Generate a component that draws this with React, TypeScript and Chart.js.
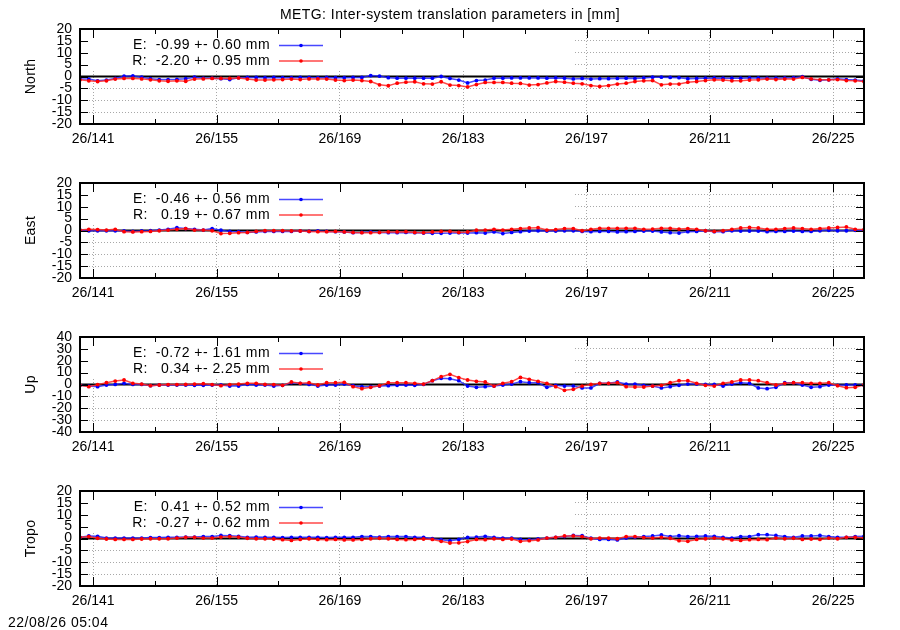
import React, { useEffect, useRef } from "react";
import { Chart, registerables } from "chart.js";

Chart.register(...registerables);

const FONT = '"Liberation Sans", Arial, Helvetica, sans-serif';

const TITLE = "METG: Inter-system translation parameters in [mm]";
const TIMESTAMP = "22/08/26 05:04";

// day of year (2026); each solution is plotted at noon of its day
const DAYS = [
  139, 140, 141, 142, 143, 144, 145, 146, 147, 148,
  149, 150, 151, 152, 153, 154, 155, 156, 157, 158,
  159, 160, 161, 162, 163, 164, 165, 166, 167, 168,
  169, 170, 171, 172, 173, 174, 175, 176, 177, 178,
  179, 180, 181, 182, 183, 184, 185, 186, 187, 188,
  189, 190, 191, 192, 193, 194, 195, 196, 197, 198,
  199, 200, 201, 202, 203, 204, 205, 206, 207, 208,
  209, 210, 211, 212, 213, 214, 215, 216, 217, 218,
  219, 220, 221, 222, 223, 224, 225, 226, 227, 228,
];

const X_TICKS = [141, 155, 169, 183, 197, 211, 225];
const X_TICK_LABELS = ["26/141", "26/155", "26/169", "26/183", "26/197", "26/211", "26/225"];
const X_MINOR_TICKS = [148, 162, 176, 190, 204, 218];

const Y_TICKS_SMALL = [-20, -15, -10, -5, 0, 5, 10, 15, 20];
const Y_TICKS_UP = [-40, -30, -20, -10, 0, 10, 20, 30, 40];

const PANEL_NAMES = ["North", "East", "Up", "Tropo"];
const E_MEAN = [-0.99, -0.46, -0.72, 0.41];
const E_SIGMA = [0.6, 0.56, 1.61, 0.52];
const R_MEAN = [-2.2, 0.19, 0.34, -0.27];
const R_SIGMA = [0.95, 0.67, 2.25, 0.62];

const NORTH_E = [
  -1.0, -1.1, -1.8, -1.5, -0.8, 0.1, 0.3, -0.3, -0.9, -1.3,
  -1.3, -1.2, -0.9, -0.3, -0.7, -0.7, -0.9, -1.3, -0.5, -0.4,
  -0.4, -0.5, -0.4, -0.5, -0.5, -0.4, -0.4, -0.5, -0.4, -0.5,
  -0.5, -0.4, -0.4, 0.4, 0.2, -0.5, -0.7, -0.7, -0.7, -0.7,
  -0.7, 0.0, -0.8, -1.5, -2.7, -1.7, -1.5, -0.7, -0.7, -0.6,
  -0.6, -0.6, -0.6, -0.7, -0.6, -0.7, -1.0, -0.8, -1.1, -0.9,
  -0.9, -0.8, -0.7, -0.8, -0.6, -0.3, -0.3, -0.4, -0.5, -0.9,
  -0.8, -0.7, -0.6, -0.7, -0.7, -0.7, -0.6, -0.6, -0.7, -0.7,
  -0.6, -0.5, -0.1, -1.2, -1.6, -1.4, -1.0, -1.3, -1.5, -1.8,
];
const NORTH_R = [
  -1.4, -1.8, -2.1, -1.8, -1.1, -0.8, -0.8, -1.0, -1.4, -1.8,
  -2.0, -1.8, -2.0, -1.1, -1.0, -0.8, -0.8, -0.8, -0.6, -1.1,
  -1.5, -1.5, -1.4, -1.3, -1.1, -1.3, -1.0, -1.0, -1.1, -1.5,
  -1.7, -1.5, -1.7, -2.1, -3.5, -3.9, -2.8, -2.4, -2.2, -3.1,
  -3.2, -2.2, -3.6, -3.8, -4.4, -3.4, -2.5, -2.5, -2.5, -2.8,
  -2.9, -3.6, -3.4, -2.7, -2.1, -2.4, -2.8, -3.1, -3.8, -4.2,
  -3.8, -3.2, -2.8, -2.1, -1.8, -1.7, -3.5, -3.2, -3.2, -2.4,
  -2.1, -1.7, -1.4, -1.5, -1.8, -1.8, -1.5, -1.4, -1.1, -1.3,
  -1.1, -1.1, -0.4, -1.0, -1.4, -1.4, -1.3, -1.7, -1.8, -2.1,
];
const EAST_E = [
  0.2, -0.1, -0.1, -0.1, -0.1, -0.2, -0.4, -0.2, -0.1, 0.2,
  0.5, 1.2, 0.8, 0.5, 0.2, 0.8, 0.1, -0.4, -0.5, -0.8,
  -0.6, -0.4, -0.4, -0.4, -0.4, -0.2, -0.4, -0.2, -0.4, -0.5,
  -0.6, -0.9, -0.8, -0.6, -0.8, -0.9, -0.9, -0.8, -0.9, -1.1,
  -1.2, -1.2, -1.1, -0.9, -1.1, -0.9, -1.1, -0.6, -1.3, -0.8,
  -0.5, -0.2, -0.1, -0.2, -0.2, -0.1, -0.1, -0.4, -0.5, -0.4,
  -0.4, -0.6, -0.5, -0.4, -0.2, -0.2, -0.6, -0.9, -1.1, -0.5,
  -0.4, -0.1, -0.5, -0.5, -0.1, -0.2, -0.2, -0.2, -0.5, -0.4,
  -0.4, -0.2, -0.4, -0.4, -0.1, 0.1, -0.1, -0.1, 0.1, 0.1,
];
const EAST_R = [
  0.2, 0.5, 0.4, 0.2, 0.5, -0.5, -0.6, -0.5, -0.4, -0.1,
  0.2, 0.5, 0.8, 0.2, 0.2, -0.1, -1.3, -1.2, -0.9, -0.8,
  -0.4, -0.1, -0.1, -0.1, -0.2, -0.2, -0.4, -0.5, -0.5, -0.4,
  -0.6, -0.8, -0.9, -0.9, -0.8, -0.6, -0.6, -0.5, -0.8, -0.9,
  -0.6, -0.4, -0.4, -0.8, -0.6, 0.1, 0.2, 0.5, 0.2, 0.5,
  0.8, 1.1, 1.2, 0.2, 0.4, 0.8, 0.8, -0.1, 0.5, 0.9,
  0.9, 0.9, 0.9, 0.9, 0.5, 0.6, 0.9, 0.9, 0.6, 0.8,
  0.5, -0.1, -0.4, -0.1, 0.5, 1.1, 1.3, 1.1, 0.5, 0.5,
  0.8, 1.1, 0.8, 0.5, 0.8, 1.1, 1.3, 1.5, 0.5, 0.4,
];
const UP_E = [
  -0.7, -1.3, -1.8, -0.4, 0.1, 1.0, 0.1, 0.1, -1.0, -0.4,
  -0.4, -0.4, -0.4, -0.7, -0.7, -0.4, -0.4, -1.3, -1.3, 0.1,
  -0.4, -0.4, -1.3, -0.7, 1.5, 1.0, 0.1, -1.3, -0.4, -0.4,
  0.4, -1.0, -1.8, -1.8, -1.3, -1.0, -0.7, -0.4, -0.7, 0.1,
  3.2, 5.2, 4.9, 3.2, -1.3, -2.4, -1.8, -1.3, -0.4, 0.4,
  2.4, 1.5, 1.5, -2.4, -0.7, -1.3, -1.3, -2.9, -2.9, 1.0,
  1.0, 2.1, 0.4, 0.4, -0.7, -1.3, -2.9, -1.8, -0.7, 0.4,
  0.4, 0.1, 0.1, -1.3, 0.4, 1.5, 1.0, -2.9, -3.5, -2.4,
  1.5, 1.5, -0.4, -2.4, -1.8, -0.4, -0.7, -0.4, -0.4, -0.7,
];
const UP_R = [
  -0.7, -1.8, -0.1, 1.5, 2.9, 3.8, 1.0, 0.4, -1.0, -0.4,
  -0.1, -0.1, 0.1, 0.4, 0.7, -0.1, -1.0, -0.1, 0.4, 1.0,
  1.0, 0.1, -0.1, -0.7, 2.1, 1.0, 1.5, -0.4, 1.5, 1.5,
  1.8, -1.8, -3.5, -2.4, -1.0, 1.5, 1.5, 1.5, 1.0, 0.4,
  3.2, 6.6, 8.6, 5.8, 3.8, 2.7, 2.1, -1.3, 1.0, 2.4,
  6.0, 4.4, 2.7, 1.0, -1.8, -4.9, -4.1, -1.3, 0.1, 1.0,
  1.0, 1.5, -1.8, -2.1, -2.1, -1.3, -0.7, 1.5, 3.2, 3.2,
  1.0, -0.7, -1.3, 1.0, 2.1, 3.8, 3.8, 3.2, 1.5, -0.4,
  1.0, 1.5, 1.5, 1.0, 1.0, 1.5, -1.0, -2.7, -2.4, -0.4,
];
const TROPO_E = [
  0.5, 1.1, 0.9, 0.2, 0.2, 0.2, 0.2, 0.2, 0.4, 0.4,
  0.5, 0.5, 0.6, 0.6, 0.8, 0.8, 1.3, 1.2, 0.9, 0.5,
  0.6, 0.5, 0.5, 0.4, 0.5, 0.5, 0.5, 0.5, 0.4, 0.5,
  0.5, 0.5, 0.8, 0.8, 0.6, 0.8, 0.8, 0.8, 0.5, 0.5,
  -0.1, -0.5, -0.9, -0.4, 0.5, 0.6, 0.9, 0.5, 0.2, 0.2,
  -0.4, -0.5, -0.2, 0.2, 0.5, 0.8, 1.3, 1.2, 0.1, -0.4,
  -0.4, -0.6, 0.2, 0.5, 0.8, 1.1, 1.5, 0.8, 1.2, 0.8,
  0.9, 1.1, 0.9, 0.5, 0.2, 0.8, 0.8, 1.6, 1.6, 1.3,
  0.8, 0.5, 1.1, 1.1, 1.3, 0.8, 0.5, 0.5, 0.8, 0.9,
];
const TROPO_R = [
  0.5, 0.8, 0.1, -0.2, -0.4, -0.4, -0.4, -0.2, -0.1, -0.1,
  -0.1, 0.2, 0.5, 0.5, 0.2, 0.2, 0.6, 0.8, 0.6, 0.1,
  -0.1, -0.1, -0.2, -0.5, -0.8, -0.4, -0.1, -0.4, -0.5, -0.4,
  -0.6, -0.6, -0.4, -0.1, 0.1, -0.1, -0.4, -0.5, -0.4, -0.2,
  -0.4, -1.2, -1.9, -1.8, -1.3, -0.4, -0.5, -0.1, -0.4, -0.2,
  -1.2, -0.9, -0.6, 0.2, 0.5, 1.1, 1.1, 0.8, -0.1, 0.2,
  0.2, -0.1, 0.8, 0.8, 0.4, 0.2, 0.5, 0.1, -0.9, -1.2,
  -0.4, -0.1, 0.2, -0.1, -0.6, -0.8, -0.5, -0.4, -0.5, 0.2,
  -0.1, 0.1, -0.4, -0.2, -0.4, 0.2, -0.1, 0.5, 0.5, 0.2,
];

const E_SERIES = [NORTH_E, EAST_E, UP_E, TROPO_E];
const R_SERIES = [NORTH_R, EAST_R, UP_R, TROPO_R];
const Y_TICKS = [Y_TICKS_SMALL, Y_TICKS_SMALL, Y_TICKS_UP, Y_TICKS_SMALL];

const BLUE = "#0000ff";
const RED = "#ff0000";
const BLUE_LINE = "rgba(40,40,255,0.85)";
const RED_LINE = "rgba(255,40,40,0.85)";

const fmtMean = (v: number) => v.toFixed(2).padStart(6, " ");

const gnuplotPlugin = {
  id: "gnuplot",
  beforeDatasetsDraw(chart: any) {
    const { ctx, chartArea } = chart;
    const { left, top, right } = chartArea;
    ctx.save();
    // opaque key box
    ctx.fillStyle = "#ffffff";
    ctx.fillRect(left, top, 493, 40);
    // zero axis
    const y0 = chart.scales.y.getPixelForValue(0);
    ctx.strokeStyle = "#000000";
    ctx.lineWidth = 2;
    ctx.beginPath();
    ctx.moveTo(left, y0);
    ctx.lineTo(right, y0);
    ctx.stroke();
    ctx.restore();
  },
  afterDatasetsDraw(chart: any, _args: any, opts: any) {
    const { ctx, chartArea, scales } = chart;
    const { left, top, right, bottom } = chartArea;
    const x = scales.x;
    const y = scales.y;
    ctx.save();
    ctx.strokeStyle = "#000000";
    ctx.lineWidth = 1;
    ctx.beginPath();
    for (const v of X_TICKS) {
      const px = Math.round(x.getPixelForValue(v)) + 0.5;
      ctx.moveTo(px, bottom);
      ctx.lineTo(px, bottom - 9);
      ctx.moveTo(px, top);
      ctx.lineTo(px, top + 9);
    }
    for (const v of X_MINOR_TICKS) {
      const px = Math.round(x.getPixelForValue(v)) + 0.5;
      ctx.moveTo(px, bottom);
      ctx.lineTo(px, bottom - 5);
      ctx.moveTo(px, top);
      ctx.lineTo(px, top + 5);
    }
    for (const v of opts.yTicks) {
      const py = Math.round(y.getPixelForValue(v)) + 0.5;
      ctx.moveTo(left, py);
      ctx.lineTo(left + 8, py);
      ctx.moveTo(right, py);
      ctx.lineTo(right - 8, py);
    }
    ctx.stroke();
    ctx.lineWidth = 2;
    ctx.strokeRect(left, top, right - left, bottom - top);

    // key
    ctx.font = `14px ${FONT}`;
    (ctx as any).letterSpacing = "0.45px";
    ctx.textBaseline = "middle";
    opts.entries.forEach((e: any, k: number) => {
      const ty = top + 16.5 + k * 15.5;
      ctx.fillStyle = "#000000";
      ctx.textAlign = "right";
      ctx.fillText(e.text, left + 190, ty);
      ctx.strokeStyle = e.line;
      ctx.lineWidth = 1.6;
      ctx.beginPath();
      ctx.moveTo(left + 199, ty);
      ctx.lineTo(left + 243, ty);
      ctx.stroke();
      ctx.fillStyle = e.point;
      ctx.beginPath();
      ctx.arc(left + 221, ty, 1.8, 0, Math.PI * 2);
      ctx.fill();
    });

    // y axis title
    ctx.fillStyle = "#000000";
    (ctx as any).letterSpacing = "0.3px";
    ctx.translate(31.5, (top + bottom) / 2);
    ctx.rotate(-Math.PI / 2);
    ctx.textAlign = "center";
    ctx.fillText(opts.title, 0, 0);
    ctx.restore();
  },
};

function Panel({ index }: { index: number }) {
  const ref = useRef<HTMLCanvasElement | null>(null);
  useEffect(() => {
    if (!ref.current) return;
    const yTicks = Y_TICKS[index];
    const yMin = yTicks[0];
    const yMax = yTicks[yTicks.length - 1];
    const toPoints = (vals: number[]) => DAYS.map((d, i) => ({ x: d + 0.5, y: vals[i] }));
    const chart = new Chart(ref.current, {
      type: "line",
      data: {
        datasets: [
          {
            label: "R",
            data: toPoints(R_SERIES[index]),
            borderColor: RED_LINE,
            backgroundColor: RED,
            pointBackgroundColor: RED,
            pointBorderWidth: 0,
            pointRadius: 1.9,
            borderWidth: 1.5,
            tension: 0,
            order: 0,
          },
          {
            label: "E",
            data: toPoints(E_SERIES[index]),
            borderColor: BLUE_LINE,
            backgroundColor: BLUE,
            pointBackgroundColor: BLUE,
            pointBorderWidth: 0,
            pointRadius: 1.9,
            borderWidth: 1.5,
            tension: 0,
            order: 1,
          },
        ],
      },
      options: {
        animation: false,
        responsive: false,
        maintainAspectRatio: false,
        devicePixelRatio: 1,
        events: [],
        layout: { padding: { top: 29, right: 36, left: 0, bottom: 0 } },
        plugins: {
          legend: { display: false },
          tooltip: { enabled: false },
          title: { display: false },
          gnuplot: {
            title: PANEL_NAMES[index],
            yTicks,
            entries: [
              {
                text: `E: ${fmtMean(E_MEAN[index])} +- ${E_SIGMA[index].toFixed(2)} mm`,
                line: BLUE_LINE,
                point: BLUE,
              },
              {
                text: `R: ${fmtMean(R_MEAN[index])} +- ${R_SIGMA[index].toFixed(2)} mm`,
                line: RED_LINE,
                point: RED,
              },
            ],
          },
        } as any,
        scales: {
          x: {
            type: "linear",
            min: 139.5,
            max: 228.5,
            afterBuildTicks: (s: any) => {
              s.ticks = X_TICKS.map((v) => ({ value: v }));
            },
            afterFit: (s: any) => {
              s.height = 30;
            },
            ticks: {
              autoSkip: false,
              maxRotation: 0,
              padding: 7,
              color: "#000000",
              font: { family: FONT, size: 14 },
              callback: (v: any) => {
                const k = X_TICKS.indexOf(Number(v));
                return k >= 0 ? X_TICK_LABELS[k] : "";
              },
            },
            grid: { color: "#a8a8a8", lineWidth: 1, drawTicks: false },
            border: { display: false, dash: [1, 2] },
          },
          y: {
            type: "linear",
            min: yMin,
            max: yMax,
            afterBuildTicks: (s: any) => {
              s.ticks = yTicks.map((v) => ({ value: v }));
            },
            afterFit: (s: any) => {
              s.width = 80;
            },
            ticks: {
              autoSkip: false,
              padding: 8,
              color: "#000000",
              font: { family: FONT, size: 14 },
              callback: (v: any) => String(v),
            },
            grid: { color: "#a8a8a8", lineWidth: 1, drawTicks: false },
            border: { display: false, dash: [1, 2] },
          },
        },
      },
      plugins: [gnuplotPlugin as any],
    });
    return () => chart.destroy();
  }, [index]);
  return (
    <canvas
      ref={ref}
      width={900}
      height={154}
      style={{ position: "absolute", left: 0, top: index * 154, width: 900, height: 154 }}
    />
  );
}

export default function App() {
  return (
    <div
      style={{
        position: "absolute",
        left: 0,
        top: 0,
        width: 900,
        height: 630,
        background: "#ffffff",
        overflow: "hidden",
      }}
    >
      {[0, 1, 2, 3].map((i) => (
        <Panel key={i} index={i} />
      ))}
      <div
        style={{
          position: "absolute",
          left: 0,
          top: 5,
          width: 900,
          textAlign: "center",
          font: `14px ${FONT}`,
          lineHeight: "18px",
          letterSpacing: "0.45px",
          color: "#000",
        }}
      >
        {TITLE}
      </div>
      <div
        style={{
          position: "absolute",
          left: 8,
          top: 613,
          font: `14px ${FONT}`,
          lineHeight: "18px",
          letterSpacing: "0.5px",
          color: "#000",
        }}
      >
        {TIMESTAMP}
      </div>
    </div>
  );
}
